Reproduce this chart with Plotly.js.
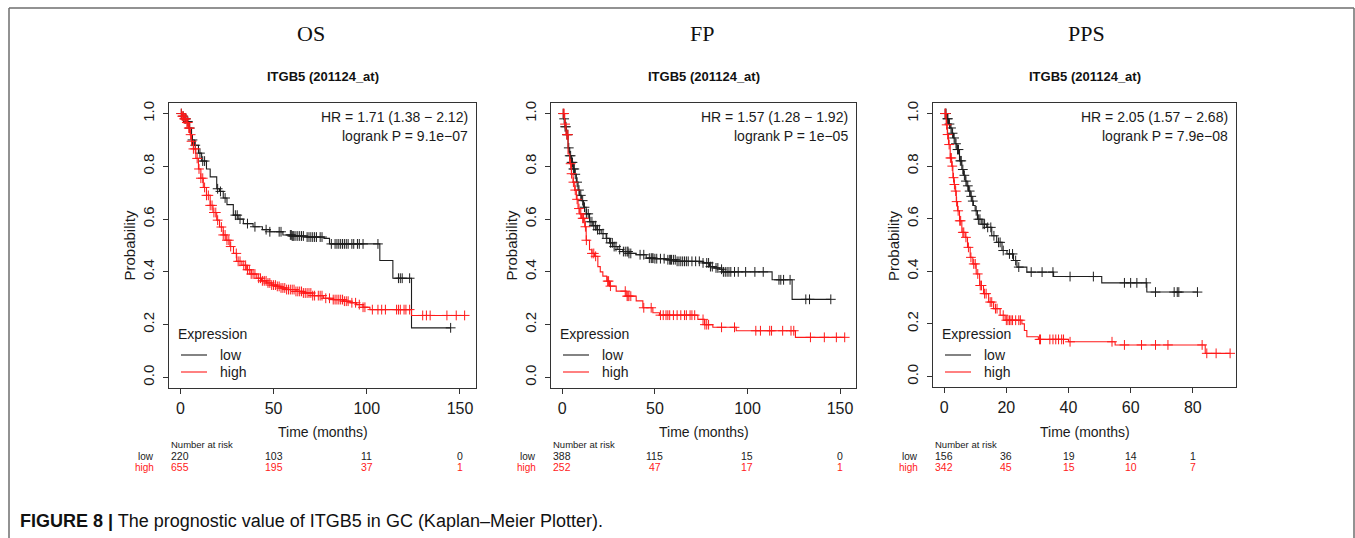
<!DOCTYPE html>
<html><head><meta charset="utf-8">
<script src="https://cdn.plot.ly/plotly-3.0.1.min.js"></script>
<style>html,body{margin:0;padding:0;background:#fff}#chart{width:1355px;height:538px}</style>
</head><body><div id="chart"></div>
<script>
// ---------------- DATA ----------------
const panelTitles = ['OS', 'FP', 'PPS'];
const geneTitle = 'ITGB5 (201124_at)';
const hrLabels = ['HR = 1.71 (1.38 \u2212 2.12)', 'HR = 1.57 (1.28 \u2212 1.92)', 'HR = 2.05 (1.57 \u2212 2.68)'];
const pLabels = ['logrank P = 9.1e\u221207', 'logrank P = 1e\u221205', 'logrank P = 7.9e\u221208'];
const groupNames = ['low', 'high'];

// OS
const osLowTimes = [0, 1, 2, 3.4, 4.5, 6, 7.5, 9.7, 11.4, 14, 16, 19.5, 21, 23, 25, 28.4, 31, 33.8, 39, 44, 48, 55, 60, 68, 77, 80, 107, 114, 124];
const osLowSurv  = [1, 0.99, 0.98, 0.97, 0.945, 0.9, 0.88, 0.85, 0.82, 0.79, 0.76, 0.715, 0.705, 0.68, 0.655, 0.615, 0.6, 0.583, 0.571, 0.56, 0.552, 0.54, 0.536, 0.532, 0.527, 0.506, 0.443, 0.376, 0.188];
const osLowCens  = [0.5,1.5,2.5,3,4,5,6.5,8,10.5,12,13,20,21.5,24,29.5,30.5,32,36,40,46,48,53,54,59,59.5,60,60.5,61,62,63,64,65,66,68,69,70,71,72,73,75,76,81,83,84,85,86,87,88,89,90,92,93,95,96,98,106,117,118,119,123,145];
const osHighTimes = [0, 1, 2, 3.4, 4.3, 5.2, 6, 7, 8.3, 9.7, 11, 12.3, 14, 16, 17.5, 19.5, 21, 23, 24.5, 26.6, 28.5, 30.2, 33, 35.6, 38, 41, 43.5, 46.3, 49, 51.7, 54, 57, 62, 66, 71, 76.7, 82, 87.4, 91, 94.6, 98, 101.7, 124];
const osHighSurv  = [1, 0.99, 0.98, 0.966, 0.945, 0.92, 0.895, 0.866, 0.83, 0.79, 0.755, 0.72, 0.69, 0.652, 0.625, 0.596, 0.57, 0.54, 0.52, 0.496, 0.47, 0.44, 0.425, 0.408, 0.392, 0.376, 0.366, 0.358, 0.35, 0.345, 0.339, 0.333, 0.326, 0.32, 0.31, 0.30, 0.295, 0.289, 0.283, 0.276, 0.266, 0.257, 0.235];
const osHighCens  = [0.5,1,1.5,2,2.5,3,3.5,4,4.5,5,5.5,6,7,8,9,10,11,12,13,14,15,16,17,18,19,20,22,23,24,25,26,27,30,31,32,34,35,36,37,38,39,40,42,43,44,45,46,47,48,49,50,51,52,53,54,55,56,57,58,59,60,61,62,63,64,65,66,67,68,69,70,71,72,74,75,76,78,80,82,83,84,85,86,87,88,89,90,92,94,96,98,99,103,106,108,110,116,117,118,120,121,123,130,132,134,143,148,152.5];
const osRiskTimes = [0, 50, 100, 150];
const osRiskLow  = [220, 103, 11, 0];
const osRiskHigh = [655, 195, 37, 1];

// FP
const fpLowTimes = [0, 0.7, 1.5, 2.2, 3.1, 4, 4.9, 5.8, 6.7, 7.6, 8.5, 9.4, 10.3, 11.5, 12.9, 14.7, 16.5, 18.3, 21, 23.7, 25.5, 27.3, 30, 32.7, 36, 39.9, 45.3, 50, 56.1, 61.5, 75.9, 79.5, 82, 84.9, 86.7, 113.3, 124.1];
const fpLowSurv  = [1, 0.98, 0.95, 0.92, 0.87, 0.84, 0.815, 0.79, 0.77, 0.74, 0.71, 0.69, 0.67, 0.645, 0.62, 0.59, 0.575, 0.56, 0.545, 0.527, 0.51, 0.496, 0.485, 0.477, 0.47, 0.465, 0.452, 0.45, 0.446, 0.44, 0.434, 0.42, 0.415, 0.41, 0.40, 0.37, 0.296];
const fpLowCens  = [0.5,1,1.5,2,2.5,3,3.5,4,4.5,5,5.5,6,6.5,7,8,9,10,11,12,13,14,15,16,17,18,19,20,22,24,26,27,28,29,31,33,34,35,35.5,36,37,42,44,47,48,48.5,49,50,51,53,55,57,58,58.5,59,60,61,62,63,64,65,66,67,68,70,72,74,76,78,79,80,81,83,84,86,87,88,89,90,91,93,95,99,104,108.5,117,118,119.5,123,131.5,133.5,145];
const fpHighTimes = [0, 1.3, 2, 3.1, 4, 4.9, 5.8, 6.7, 7.6, 8.5, 9.4, 10.3, 12.1, 12.9, 14.7, 16, 17.4, 19.2, 20.5, 21.9, 24, 25.5, 29.1, 34.5, 39.9, 43.5, 48.9, 52.5, 73.2, 76.8, 81.3, 93.9, 125.9];
const fpHighSurv  = [1, 0.96, 0.92, 0.847, 0.81, 0.772, 0.74, 0.71, 0.675, 0.64, 0.62, 0.603, 0.571, 0.52, 0.484, 0.47, 0.459, 0.42, 0.4, 0.384, 0.365, 0.346, 0.327, 0.308, 0.29, 0.264, 0.245, 0.236, 0.22, 0.20, 0.19, 0.177, 0.152];
const fpHighCens  = [0.5,1,1.5,2.5,3,4.5,5,6,7,8,9,10,11,11.5,12.5,13,16,17,18,24.5,25,26,34,35,35.5,36,37,44,48,53,54.5,56,57,58,60,62,64,66,67,69,70,71.5,76,77,78,79,86,93,104.5,107,112,113,119,123.5,125,134,141.5,148,152.5];
const fpRiskTimes = [0, 50, 100, 150];
const fpRiskLow  = [388, 115, 15, 0];
const fpRiskHigh = [252, 47, 17, 1];

// PPS
const ppsLowTimes = [0, 0.86, 1.4, 1.93, 2.5, 3.0, 3.5, 4.07, 4.93, 5.68, 6.2, 6.76, 7.3, 7.83, 8.4, 8.9, 9.4, 9.97, 10.7, 12.1, 13.7, 15.3, 16.9, 18.6, 20.2, 22.3, 23.4, 26.6, 35.2, 50.7, 65.2];
const ppsLowSurv  = [1, 0.98, 0.96, 0.945, 0.925, 0.907, 0.885, 0.863, 0.82, 0.787, 0.765, 0.743, 0.725, 0.705, 0.685, 0.667, 0.65, 0.63, 0.598, 0.579, 0.567, 0.535, 0.51, 0.479, 0.466, 0.441, 0.416, 0.397, 0.38, 0.356, 0.321];
const ppsLowCens  = [0.3,0.6,1,1.2,1.7,2.2,2.7,3.2,3.8,4.3,4.6,5.2,5.5,6,6.5,7,7.6,8.2,8.7,9.2,10.3,11,11.5,12.5,13,14,15,16,17.5,18,19,21,22,23,24,28,31.5,35,40.5,48,58,60,62,65,68,74,75,75.5,81.5];
const ppsHighTimes = [0, 0.64, 1.0, 1.39, 1.93, 2.4, 2.79, 3.2, 3.54, 3.9, 4.29, 4.93, 5.68, 6.76, 7.5, 8.36, 9.22, 10.3, 11.4, 12.65, 14.3, 15.9, 18.0, 19.6, 25.0, 25.8, 26.6, 30.3, 40.0, 55.0, 84.0];
const ppsHighSurv  = [1, 0.957, 0.92, 0.882, 0.831, 0.8, 0.756, 0.73, 0.705, 0.665, 0.63, 0.592, 0.548, 0.529, 0.491, 0.453, 0.428, 0.39, 0.346, 0.315, 0.283, 0.258, 0.233, 0.214, 0.20, 0.175, 0.151, 0.141, 0.132, 0.12, 0.088];
const ppsHighCens  = [0.3,0.5,0.8,1.1,1.6,2,2.3,2.6,3,3.3,3.7,4,4.5,5,5.3,6,6.3,7,7.8,8.6,9.5,10,10.8,11.6,12,13,13.5,14.8,15.3,16.5,17,19,20,20.5,21,21.5,22,23,24,24.5,30.7,31,34,35,35.9,36.8,37.8,38.4,40.5,54,58,63.5,68,72,83,84.5,87.5,92];
const ppsRiskTimes = [0, 20, 40, 60, 80];
const ppsRiskLow  = [156, 36, 19, 14, 1];
const ppsRiskHigh = [342, 45, 15, 10, 7];

const panels = [
  {low: [osLowTimes, osLowSurv, osLowCens], high: [osHighTimes, osHighSurv, osHighCens], risk: [osRiskTimes, osRiskLow, osRiskHigh]},
  {low: [fpLowTimes, fpLowSurv, fpLowCens], high: [fpHighTimes, fpHighSurv, fpHighCens], risk: [fpRiskTimes, fpRiskLow, fpRiskHigh]},
  {low: [ppsLowTimes, ppsLowSurv, ppsLowCens], high: [ppsHighTimes, ppsHighSurv, ppsHighCens], risk: [ppsRiskTimes, ppsRiskLow, ppsRiskHigh]}
];

// ---------------- STYLE / LAYOUT ----------------
const W = 1355, H = 538;
const px = x => x / W;
const py = y => 1 - y / H;
const boxes = [
  {l: 169, r: 476, t: 103, b: 388, xr: [-6.1, 158.6], topX: 311},
  {l: 551, r: 856, t: 103, b: 388, xr: [-6.1, 158.6], topX: 702},
  {l: 933, r: 1236, t: 103, b: 387, xr: [-3.6, 93.9], topX: 1086}
];
const colLow = '#1e1e1e', colHigh = '#ff1a1a';
const sans = 'Liberation Sans, Arial, sans-serif';

function survAt(times, surv, t) {
  let v = surv[0];
  for (let i = 0; i < times.length; i++) { if (times[i] <= t) v = surv[i]; }
  return v;
}

const traces = [];
const annotations = [];
const shapes = [];
const layout = {
  width: W, height: H, margin: {l: 0, r: 0, t: 0, b: 0},
  paper_bgcolor: '#ffffff', plot_bgcolor: '#ffffff', showlegend: false,
  font: {family: sans, color: '#1a1a1a'}
};

panels.forEach((p, i) => {
  const bx = boxes[i];
  const k = i + 1;
  const xa = 'x' + (k === 1 ? '' : k), ya = 'y' + (k === 1 ? '' : k);
  const xkey = 'xaxis' + (k === 1 ? '' : k), ykey = 'yaxis' + (k === 1 ? '' : k);
  layout[xkey] = {
    domain: [px(bx.l), px(bx.r)], range: bx.xr, anchor: ya,
    tickvals: p.risk[0], ticks: 'outside', ticklen: 5, tickcolor: '#333',
    showline: true, mirror: true, linecolor: '#333', linewidth: 1,
    showgrid: false, zeroline: false, ticklabelstandoff: 1,
    tickfont: {size: 16, family: sans, color: '#1a1a1a'}
  };
  layout[ykey] = {
    domain: [py(bx.b), py(bx.t)], range: [-0.04, 1.04], anchor: xa,
    tickvals: [0, 0.2, 0.4, 0.6, 0.8, 1.0], tickformat: '.1f', tickangle: -90,
    ticks: 'outside', ticklen: 5, tickcolor: '#333',
    showline: true, mirror: true, linecolor: '#333', linewidth: 1,
    showgrid: false, zeroline: false, ticklabelstandoff: 3,
    tickfont: {size: 15, family: sans, color: '#1a1a1a'}
  };

  [['low', colLow], ['high', colHigh]].forEach(([g, col]) => {
    const [times, surv, cens] = p[g];
    const endT = Math.max(times[times.length - 1], cens[cens.length - 1]);
    const xs = times.concat([endT]);
    const ys = surv.concat([surv[surv.length - 1]]);
    traces.push({x: xs, y: ys, xaxis: xa, yaxis: ya, type: 'scatter', mode: 'lines',
      line: {shape: 'hv', color: col, width: 1.1}, hoverinfo: 'skip'});
    traces.push({x: cens, y: cens.map(t => survAt(times, surv, t)), xaxis: xa, yaxis: ya,
      type: 'scatter', mode: 'markers',
      marker: {symbol: 'cross-thin', size: 7, line: {color: col, width: 1}, color: col}, hoverinfo: 'skip'});
  });

  const cx = (bx.l + bx.r) / 2;
  // top titles
  annotations.push({text: panelTitles[i], xref: 'paper', yref: 'paper', x: px(bx.topX), y: py(33),
    xanchor: 'center', yanchor: 'middle', showarrow: false,
    font: {family: 'Liberation Serif, Times New Roman, serif', size: 22, color: '#111'}});
  annotations.push({text: '<b>' + geneTitle + '</b>', xref: 'paper', yref: 'paper', x: px(cx), y: py(77),
    xanchor: 'center', yanchor: 'middle', showarrow: false,
    font: {family: sans, size: 13, color: '#111'}});
  // HR / logrank
  annotations.push({text: hrLabels[i], xref: 'paper', yref: 'paper', x: px(bx.r - 6), y: py(117),
    xanchor: 'right', yanchor: 'middle', showarrow: false, font: {family: sans, size: 14, color: '#1a1a1a'}});
  annotations.push({text: pLabels[i], xref: 'paper', yref: 'paper', x: px(bx.r - 6), y: py(136),
    xanchor: 'right', yanchor: 'middle', showarrow: false, font: {family: sans, size: 14, color: '#1a1a1a'}});
  // axis titles
  annotations.push({text: 'Probability', xref: 'paper', yref: 'paper', x: px(bx.l - 40), y: py((bx.t + bx.b) / 2),
    xanchor: 'center', yanchor: 'middle', textangle: -90, showarrow: false, font: {family: sans, size: 15, color: '#1a1a1a'}});
  annotations.push({text: 'Time (months)', xref: 'paper', yref: 'paper', x: px(cx), y: py(432),
    xanchor: 'center', yanchor: 'middle', showarrow: false, font: {family: sans, size: 14, color: '#1a1a1a'}});
  // legend
  annotations.push({text: 'Expression', xref: 'paper', yref: 'paper', x: px(bx.l + 7), y: py(334),
    xanchor: 'left', yanchor: 'middle', showarrow: false, font: {family: sans, size: 14, color: '#1a1a1a'}});
  [[groupNames[0], colLow, 355], [groupNames[1], colHigh, 372]].forEach(([name, col, yy]) => {
    shapes.push({type: 'line', xref: 'paper', yref: 'paper', x0: px(bx.l + 12), x1: px(bx.l + 38), y0: py(yy), y1: py(yy),
      line: {color: col, width: 1.1}});
    annotations.push({text: name, xref: 'paper', yref: 'paper', x: px(bx.l + 49), y: py(yy),
      xanchor: 'left', yanchor: 'middle', showarrow: false, font: {family: sans, size: 14, color: '#1a1a1a'}});
  });
  // number at risk
  annotations.push({text: 'Number at risk', xref: 'paper', yref: 'paper', x: px(bx.l), y: py(444),
    xanchor: 'left', yanchor: 'middle', showarrow: false, font: {family: sans, size: 9.5, color: '#1a1a1a'}});
  annotations.push({text: groupNames[0], xref: 'paper', yref: 'paper', x: px(bx.l - 13), y: py(456),
    xanchor: 'right', yanchor: 'middle', showarrow: false, font: {family: sans, size: 10, color: '#1a1a1a'}});
  annotations.push({text: groupNames[1], xref: 'paper', yref: 'paper', x: px(bx.l - 13), y: py(467),
    xanchor: 'right', yanchor: 'middle', showarrow: false, font: {family: sans, size: 10, color: colHigh}});
  p.risk[0].forEach((t, j) => {
    annotations.push({text: String(p.risk[1][j]), xref: xa, yref: 'paper', x: t, y: py(456),
      xanchor: 'center', yanchor: 'middle', showarrow: false, font: {family: sans, size: 10.5, color: '#1a1a1a'}});
    annotations.push({text: String(p.risk[2][j]), xref: xa, yref: 'paper', x: t, y: py(467),
      xanchor: 'center', yanchor: 'middle', showarrow: false, font: {family: sans, size: 10.5, color: colHigh}});
  });
});

// caption
annotations.push({text: '<b>FIGURE 8 |</b> The prognostic value of ITGB5 in GC (Kaplan\u2013Meier Plotter).',
  xref: 'paper', yref: 'paper', x: px(18), y: py(521), xanchor: 'left', yanchor: 'middle', showarrow: false,
  font: {family: sans, size: 18, color: '#111'}});

// frame
shapes.push({type: 'line', xref: 'paper', yref: 'paper', x0: px(9), x1: px(1354), y0: py(8), y1: py(8), line: {color: '#6e6e6e', width: 1.5}});
shapes.push({type: 'line', xref: 'paper', yref: 'paper', x0: px(9), x1: px(9), y0: py(8), y1: 0, line: {color: '#6e6e6e', width: 1.5}});
shapes.push({type: 'line', xref: 'paper', yref: 'paper', x0: px(1354), x1: px(1354), y0: py(8), y1: 0, line: {color: '#6e6e6e', width: 1.5}});

layout.annotations = annotations;
layout.shapes = shapes;
Plotly.newPlot('chart', traces, layout, {staticPlot: true, displayModeBar: false});
</script>
</body></html>
